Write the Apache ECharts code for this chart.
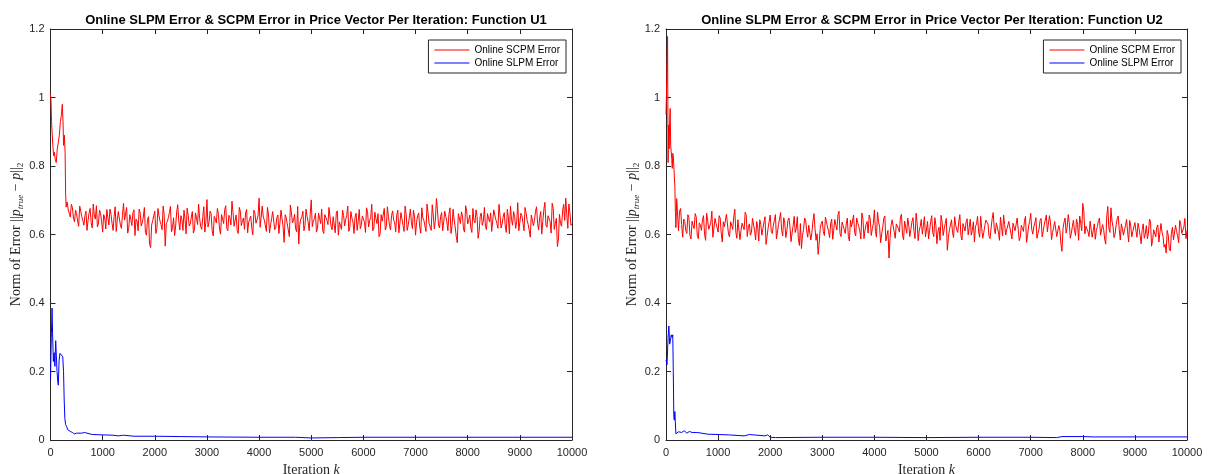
<!DOCTYPE html>
<html>
<head>
<meta charset="utf-8">
<script src="https://cdn.jsdelivr.net/npm/echarts@6/dist/echarts.min.js"></script>
<style>html,body{margin:0;padding:0;background:#fff;}#c{width:1212px;height:474px;}</style>
</head>
<body>
<div id="c"></div>
<script>
// ---------- data ----------
const titles = [
  'Online SLPM Error & SCPM Error in Price Vector Per Iteration: Function U1',
  'Online SLPM Error & SCPM Error in Price Vector Per Iteration: Function U2'
];
const seriesNames = ['Online SCPM Error', 'Online SLPM Error'];
const xTicks = [0, 1000, 2000, 3000, 4000, 5000, 6000, 7000, 8000, 9000, 10000];
const yTicks = [0, 0.2, 0.4, 0.6, 0.8, 1, 1.2];

// U1 - SCPM (red): transient head, then values read every 20 iterations (two interleaved lists)
const u1ScpmHeadK = [0, 10, 20, 30, 45, 60, 75, 90, 110, 130, 150, 170, 190, 210, 226, 240, 250, 265, 280, 290, 300];
const u1ScpmHeadV = [1.01, 0.99, 0.93, 0.90, 0.86, 0.83, 0.84, 0.82, 0.81, 0.85, 0.87, 0.89, 0.93, 0.95, 0.98, 0.93, 0.86, 0.89, 0.84, 0.72, 0.68];
const u1ScpmAStart = 320, u1ScpmBStart = 340, u1ScpmStep = 40;
const u1ScpmA = [
  0.695,0.662,0.688,0.648,0.671,0.639,0.683,0.652,0.627,0.668,0.641,0.676,0.619,0.657,0.684,0.633,0.662,0.607,0.648,0.673,
  0.628,0.659,0.612,0.681,0.642,0.665,0.618,0.691,0.637,0.604,0.658,0.626,0.672,0.645,0.611,0.663,0.634,0.679,0.598,0.652,
  0.562,0.641,0.668,0.617,0.655,0.629,0.683,0.566,0.638,0.664,0.608,0.649,0.625,0.687,0.613,0.644,0.671,0.602,0.656,0.631,
  0.667,0.614,0.648,0.689,0.623,0.652,0.607,0.702,0.636,0.661,0.596,0.645,0.676,0.619,0.658,0.632,0.684,0.611,0.649,0.697,
  0.624,0.657,0.603,0.668,0.641,0.615,0.673,0.636,0.654,0.599,0.662,0.628,0.706,0.617,0.651,0.638,0.679,0.605,0.646,0.664,
  0.621,0.657,0.635,0.672,0.577,0.649,0.613,0.686,0.634,0.659,0.608,0.572,0.645,0.668,0.626,0.653,0.611,0.701,0.639,0.662,
  0.618,0.647,0.674,0.603,0.655,0.629,0.681,0.614,0.648,0.663,0.598,0.642,0.671,0.625,0.656,0.609,0.667,0.637,0.651,0.612,
  0.673,0.628,0.654,0.606,0.665,0.641,0.688,0.619,0.647,0.661,0.601,0.639,0.676,0.623,0.652,0.613,0.669,0.634,0.658,0.605,
  0.664,0.627,0.683,0.612,0.649,0.636,0.671,0.598,0.655,0.621,0.678,0.641,0.609,0.662,0.633,0.687,0.616,0.705,0.628,0.652,
  0.611,0.668,0.637,0.659,0.603,0.674,0.622,0.576,0.648,0.666,0.615,0.684,0.631,0.657,0.606,0.641,0.672,0.589,0.653,0.627,
  0.679,0.614,0.646,0.663,0.608,0.657,0.632,0.688,0.619,0.651,0.625,0.674,0.602,0.644,0.667,0.618,0.693,0.636,0.655,0.611,
  0.663,0.629,0.592,0.658,0.641,0.681,0.613,0.667,0.638,0.694,0.621,0.652,0.604,0.676,0.633,0.565,0.659,0.624,0.688,0.706,
  0.618,0.664,0.632
];
const u1ScpmB = [
  0.672,0.651,0.679,0.637,0.661,0.624,0.668,0.641,0.655,0.612,0.663,0.634,0.689,0.645,0.622,0.671,0.639,0.658,0.616,0.649,
  0.674,0.633,0.652,0.609,0.667,0.628,0.656,0.642,0.679,0.618,0.645,0.663,0.597,0.639,0.674,0.625,0.651,0.606,0.644,0.571,
  0.628,0.655,0.603,0.676,0.639,0.614,0.658,0.631,0.649,0.682,0.621,0.597,0.666,0.638,0.655,0.612,0.643,0.677,0.625,0.651,
  0.604,0.663,0.629,0.647,0.615,0.681,0.638,0.622,0.668,0.611,0.653,0.634,0.659,0.601,0.645,0.672,0.618,0.656,0.628,0.664,
  0.642,0.611,0.679,0.626,0.648,0.662,0.605,0.639,0.617,0.671,0.633,0.654,0.621,0.683,0.642,0.609,0.657,0.628,0.667,0.614,
  0.649,0.603,0.671,0.622,0.658,0.631,0.594,0.663,0.641,0.617,0.682,0.629,0.652,0.611,0.674,0.637,0.659,0.623,0.646,0.607,
  0.663,0.632,0.611,0.658,0.641,0.679,0.624,0.652,0.605,0.669,0.637,0.615,0.656,0.644,0.683,0.621,0.648,0.603,0.662,0.638,
  0.617,0.654,0.636,0.678,0.622,0.649,0.611,0.665,0.632,0.594,0.658,0.641,0.613,0.681,0.627,0.655,0.642,0.608,0.671,0.633,
  0.645,0.609,0.659,0.628,0.674,0.617,0.652,0.636,0.663,0.604,0.648,0.625,0.689,0.633,0.612,0.657,0.641,0.673,0.619,0.664,
  0.637,0.652,0.611,0.678,0.626,0.643,0.595,0.661,0.632,0.654,0.607,0.669,0.641,0.618,0.676,0.634,0.652,0.611,0.663,0.639,
  0.624,0.661,0.637,0.609,0.672,0.643,0.618,0.655,0.631,0.664,0.606,0.648,0.683,0.627,0.652,0.639,0.611,0.662,0.634,0.679,
  0.641,0.612,0.657,0.626,0.668,0.633,0.649,0.601,0.672,0.627,0.655,0.638,0.691,0.615,0.647,0.587,0.632,0.669,0.641,0.658,
  0.689,0.627
];

// U1 - SLPM (blue)
const u1SlpmK = [0,15,30,40,55,70,85,100,110,125,140,150,165,182,200,220,235,250,262,275,290,310,330,350,380,420,460,500,600,650,700,800,1000,1200,1300,1400,1600,2000,2500,3000,4000,4700,5000,5500,6000,7000,8000,9000,10000];
const u1SlpmV = [0.175,0.30,0.385,0.31,0.229,0.255,0.215,0.29,0.292,0.20,0.17,0.16,0.233,0.253,0.255,0.248,0.243,0.20,0.12,0.063,0.045,0.039,0.03,0.035,0.025,0.022,0.018,0.02,0.02,0.022,0.02,0.016,0.015,0.014,0.012,0.014,0.011,0.011,0.010,0.009,0.008,0.008,0.006,0.007,0.008,0.008,0.008,0.008,0.008];

// U2 - SCPM (red)
const u2ScpmHeadK = [0, 15, 30, 40, 50, 60, 70, 80, 90, 100, 110, 120, 130, 140, 150, 160, 170, 180, 190, 205];
const u2ScpmHeadV = [0.95, 1.05, 1.178, 0.81, 0.92, 0.85, 0.93, 0.968, 0.86, 0.842, 0.822, 0.793, 0.837, 0.83, 0.80, 0.80, 0.74, 0.667, 0.62, 0.705];
const u2ScpmAStart = 240, u2ScpmBStart = 260, u2ScpmStep = 40;
const u2ScpmA = [
  0.611,0.676,0.592,0.638,0.603,0.649,0.587,0.627,0.661,0.598,0.634,0.612,0.655,0.583,0.641,0.619,0.668,0.596,0.632,0.607,
  0.648,0.578,0.623,0.659,0.601,0.637,0.615,0.674,0.589,0.642,0.612,0.628,0.665,0.594,0.631,0.606,0.651,0.584,0.622,0.643,
  0.598,0.636,0.571,0.619,0.657,0.603,0.641,0.587,0.629,0.664,0.596,0.633,0.611,0.648,0.579,0.625,0.606,0.652,0.568,0.559,
  0.614,0.642,0.592,0.627,0.605,0.661,0.583,0.542,0.618,0.639,0.597,0.653,0.609,0.631,0.586,0.644,0.613,0.668,0.594,0.626,
  0.603,0.648,0.581,0.622,0.657,0.596,0.635,0.611,0.663,0.588,0.629,0.604,0.646,0.617,0.672,0.592,0.638,0.576,0.621,0.654,
  0.598,0.531,0.626,0.644,0.589,0.633,0.607,0.659,0.585,0.621,0.648,0.594,0.637,0.609,0.662,0.582,0.624,0.601,0.652,0.616,
  0.587,0.638,0.605,0.649,0.573,0.621,0.656,0.597,0.632,0.554,0.614,0.643,0.591,0.628,0.606,0.658,0.584,0.622,0.637,0.599,
  0.645,0.612,0.578,0.631,0.608,0.653,0.589,0.626,0.641,0.595,0.619,0.664,0.602,0.635,0.583,0.623,0.657,0.598,0.611,0.642,
  0.587,0.629,0.606,0.651,0.593,0.618,0.639,0.577,0.625,0.662,0.601,0.634,0.589,0.616,0.647,0.596,0.631,0.608,0.655,0.585,
  0.621,0.643,0.598,0.612,0.551,0.636,0.604,0.658,0.589,0.624,0.612,0.645,0.583,0.633,0.691,0.602,0.627,0.594,0.641,0.611,
  0.586,0.623,0.648,0.597,0.615,0.572,0.682,0.606,0.639,0.591,0.628,0.654,0.584,0.617,0.603,0.644,0.578,0.626,0.609,0.635,
  0.592,0.618,0.573,0.631,0.602,0.587,0.645,0.566,0.614,0.593,0.628,0.581,0.607,0.563,0.546,0.598,0.552,0.621,0.584,0.609,
  0.576,0.631,0.598,0.647,0.612
];
const u2ScpmB = [
  0.668,0.629,0.645,0.611,0.658,0.596,0.639,0.617,0.652,0.588,0.627,0.643,0.601,0.662,0.615,0.634,0.592,0.647,0.621,0.655,
  0.604,0.637,0.619,0.662,0.593,0.628,0.651,0.607,0.643,0.585,0.633,0.614,0.656,0.621,0.598,0.647,0.612,0.638,0.581,0.629,
  0.617,0.652,0.594,0.638,0.609,0.627,0.658,0.586,0.634,0.612,0.649,0.591,0.641,0.622,0.605,0.653,0.617,0.589,0.632,0.598,
  0.648,0.611,0.627,0.584,0.639,0.618,0.602,0.575,0.633,0.608,0.651,0.622,0.591,0.645,0.613,0.628,0.657,0.603,0.636,0.615,
  0.631,0.594,0.642,0.619,0.606,0.648,0.623,0.587,0.645,0.613,0.638,0.657,0.597,0.632,0.609,0.665,0.621,0.602,0.647,0.581,
  0.612,0.589,0.643,0.607,0.631,0.618,0.652,0.597,0.639,0.604,0.626,0.615,0.649,0.588,0.635,0.611,0.644,0.626,0.593,0.638,
  0.612,0.655,0.594,0.627,0.608,0.583,0.636,0.617,0.647,0.591,0.628,0.605,0.652,0.614,0.639,0.597,0.632,0.610,0.646,0.621,
  0.598,0.637,0.624,0.653,0.592,0.617,0.606,0.642,0.631,0.588,0.646,0.618,0.634,0.607,0.651,0.596,0.629,0.614,0.638,0.603,
  0.633,0.611,0.648,0.582,0.627,0.609,0.653,0.597,0.638,0.615,0.622,0.649,0.603,0.641,0.593,0.628,0.657,0.612,0.634,0.606,
  0.638,0.594,0.626,0.572,0.617,0.648,0.621,0.635,0.603,0.642,0.597,0.629,0.654,0.611,0.668,0.624,0.608,0.639,0.592,0.631,
  0.612,0.641,0.598,0.629,0.587,0.654,0.619,0.678,0.623,0.602,0.646,0.614,0.631,0.598,0.627,0.608,0.641,0.593,0.622,0.611,
  0.633,0.597,0.615,0.589,0.626,0.604,0.638,0.583,0.611,0.621,0.578,0.632,0.595,0.571,0.612,0.558,0.603,0.584,0.627,0.596,
  0.641,0.603,0.622,0.588
];

// U2 - SLPM (blue)
const u2SlpmK = [0,20,40,55,70,85,100,115,130,140,150,160,170,180,190,200,240,300,350,400,450,500,600,800,1000,1200,1500,1600,1900,1950,2000,2100,3000,4000,5000,6000,7000,7500,7600,8000,8200,9000,10000];
const u2SlpmV = [0.234,0.22,0.30,0.333,0.28,0.29,0.307,0.30,0.307,0.20,0.068,0.058,0.083,0.05,0.018,0.02,0.024,0.022,0.027,0.02,0.025,0.022,0.022,0.017,0.016,0.015,0.012,0.016,0.012,0.015,0.008,0.007,0.008,0.008,0.007,0.008,0.008,0.007,0.010,0.010,0.009,0.009,0.009];

// ---------- build ----------
function pairs(ks, vs) { return ks.map((k, i) => [k, vs[i]]); }
function series(hk, hv, aStart, bStart, step, a, b) {
  const out = pairs(hk, hv);
  const tail = [];
  a.forEach((v, i) => tail.push([aStart + i * step, v]));
  b.forEach((v, i) => tail.push([bStart + i * step, v]));
  tail.sort((p, q) => p[0] - q[0]);
  return out.concat(tail);
}
const u1Scpm = series(u1ScpmHeadK, u1ScpmHeadV, u1ScpmAStart, u1ScpmBStart, u1ScpmStep, u1ScpmA, u1ScpmB);
const u2Scpm = series(u2ScpmHeadK, u2ScpmHeadV, u2ScpmAStart, u2ScpmBStart, u2ScpmStep, u2ScpmA, u2ScpmB);
const u1Slpm = pairs(u1SlpmK, u1SlpmV);
const u2Slpm = pairs(u2SlpmK, u2SlpmV);

const AX = '#262626';
const SANS = 'Liberation Sans, Arial, Helvetica, sans-serif';
const SERIF = 'Liberation Serif, DejaVu Serif, serif';
const grids = [
  { left: 50.5, right: 640, top: 29, bottom: 34, containLabel: false, outerBoundsMode: 'none' },
  { left: 666, right: 25, top: 29, bottom: 34, containLabel: false, outerBoundsMode: 'none' }
];
const xMin = xTicks[0], xMax = xTicks[xTicks.length - 1], xInt = xTicks[1] - xTicks[0];
const yMin = yTicks[0], yMax = yTicks[yTicks.length - 1], yInt = 0.2;

const xAxes = [], yAxes = [];
grids.forEach((g, gi) => {
  const common = { gridIndex: gi, type: 'value', min: xMin, max: xMax, interval: xInt,
    axisLine: { show: true, onZero: false, lineStyle: { color: AX, width: 1 } },
    axisTick: { show: true, inside: true, length: 5, lineStyle: { color: AX, width: 1 } },
    splitLine: { show: false } };
  xAxes.push(Object.assign({}, common, {
    position: 'bottom',
    axisLabel: { show: true, color: AX, fontSize: 11, fontFamily: SANS, margin: 7,
      formatter: v => String(v) },
    name: '{a|Iteration }{b|k}', nameLocation: 'middle', nameGap: 20,
    nameTextStyle: { rich: {
      a: { fontFamily: SERIF, fontSize: 14, color: AX },
      b: { fontFamily: SERIF, fontSize: 14, color: AX, fontStyle: 'italic' } } }
  }));
  xAxes.push(Object.assign({}, common, { position: 'top', axisLabel: { show: false } }));
  const ycommon = { gridIndex: gi, type: 'value', min: yMin, max: yMax, interval: yInt,
    axisLine: { show: true, onZero: false, lineStyle: { color: AX, width: 1 } },
    axisTick: { show: true, inside: true, length: 5, lineStyle: { color: AX, width: 1 } },
    splitLine: { show: false } };
  yAxes.push(Object.assign({}, ycommon, {
    position: 'left',
    axisLabel: { show: true, color: AX, fontSize: 11, fontFamily: SANS, margin: 6 },
    name: '{n|Norm of Error ||}{i|p}{s|true}{n| − }{i|p}{n|||}{t|2}',
    nameLocation: 'middle', nameGap: 25, nameRotate: 90,
    nameTextStyle: { rich: {
      n: { fontFamily: SERIF, fontSize: 14, color: AX, lineHeight: 17, verticalAlign: 'middle' },
      i: { fontFamily: SERIF, fontSize: 14, color: AX, fontStyle: 'italic', lineHeight: 17, verticalAlign: 'middle' },
      s: { fontFamily: SERIF, fontSize: 9, color: AX, fontStyle: 'italic', lineHeight: 17, verticalAlign: 'bottom' },
      t: { fontFamily: SERIF, fontSize: 9, color: AX, lineHeight: 17, verticalAlign: 'bottom' } } }
  }));
  yAxes.push(Object.assign({}, ycommon, { position: 'right', axisLabel: { show: false } }));
});

function line(name, data, gi, color) {
  return { name, type: 'line', data, xAxisIndex: gi * 2, yAxisIndex: gi * 2,
    symbol: 'none', showSymbol: false, sampling: false, animation: false,
    lineStyle: { color, width: 1 }, itemStyle: { color }, clip: true };
}

function legend(gi) {
  return { show: true, orient: 'vertical', right: gi === 0 ? 646 : 31, top: 40,
    data: seriesNames.map(n => ({ name: n, icon: 'rect' })),
    backgroundColor: '#fff', borderColor: AX, borderWidth: 1,
    padding: [4, 6, 4, 6], itemWidth: 35, itemHeight: 1.2, itemGap: 1,
    textStyle: { fontFamily: SANS, fontSize: 10, color: '#000', lineHeight: 12 } };
}

const option = {
  backgroundColor: '#fff',
  animation: false,
  title: titles.map((t, gi) => ({
    text: t, left: gi === 0 ? 311 : 927, top: 9, textAlign: 'center',
    textStyle: { fontFamily: SANS, fontSize: 13, fontWeight: 'bold', color: '#000' }
  })),
  legend: [legend(0), legend(1)],
  grid: grids,
  xAxis: xAxes,
  yAxis: yAxes,
  series: [
    line(seriesNames[0], u1Scpm, 0, '#ff0000'),
    line(seriesNames[1], u1Slpm, 0, '#0000ff'),
    line(seriesNames[0], u2Scpm, 1, '#ff0000'),
    line(seriesNames[1], u2Slpm, 1, '#0000ff')
  ]
};
const chart = echarts.init(document.getElementById('c'), null, { renderer: 'canvas' });
chart.setOption(option);
</script>
</body>
</html>
